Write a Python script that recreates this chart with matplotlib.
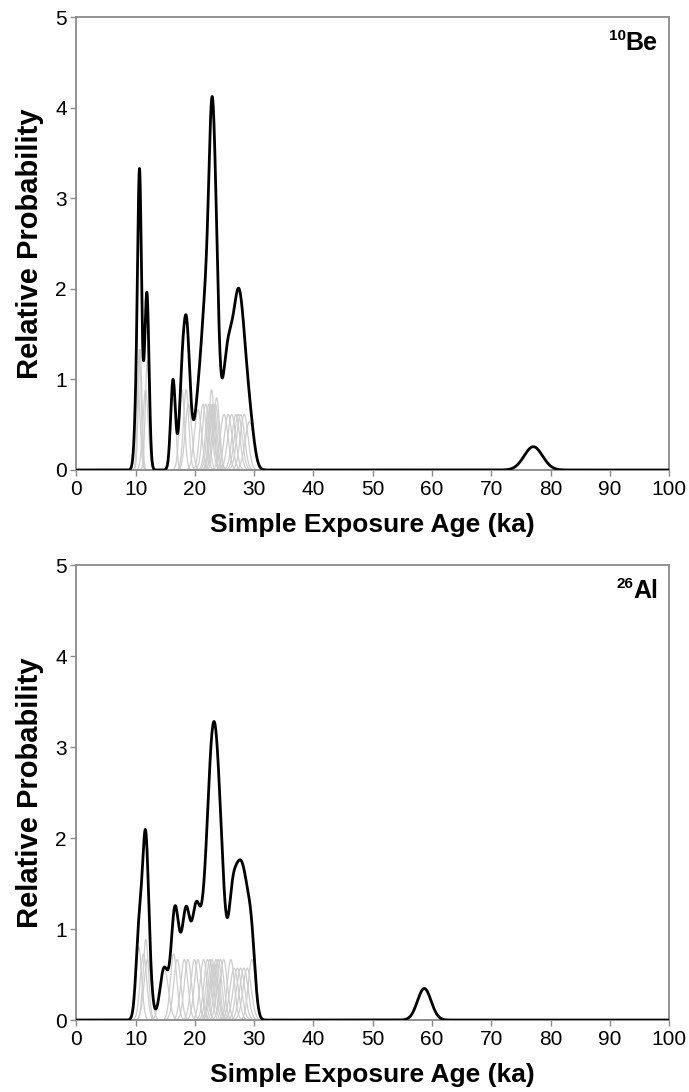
import numpy as np
import matplotlib
matplotlib.use("Agg")
import matplotlib.pyplot as plt

plt.rcParams["font.family"] = ["Liberation Sans", "DejaVu Sans"]

# Simple exposure ages (ka) and 1-sigma uncertainties (ka) for each boulder
be10_age = [10.3, 10.6, 10.75, 11.65, 11.95,
            16.3, 17.8, 18.5, 18.9,
            20.5, 21.35, 21.8, 22.35, 22.6, 22.8, 22.95, 23.15, 23.45, 23.65,
            24.9, 25.6, 26.2, 26.9, 27.3, 27.7, 28.3, 29.2,
            77.1]
be10_err = [0.40, 0.30, 0.30, 0.45, 0.33,
            0.40, 0.45, 0.45, 0.55,
            0.60, 0.55, 0.55, 0.55, 0.55, 0.45, 0.55, 0.55, 0.55, 0.50,
            0.65, 0.65, 0.65, 0.65, 0.65, 0.65, 0.65, 0.75,
            1.55]

al26_age = [10.5, 11.3, 11.7, 12.0,
            14.8, 16.4, 17.0, 18.2, 18.8, 19.9, 20.5,
            21.45, 22.1, 22.5, 22.85, 23.1, 23.3, 23.55, 23.9, 24.3, 24.85,
            26.05, 26.6, 27.15, 27.7, 28.25, 28.8, 29.6,
            58.7]
al26_err = [0.50, 0.55, 0.45, 0.60,
            0.70, 0.55, 0.60, 0.60, 0.60, 0.60, 0.60,
            0.60, 0.60, 0.60, 0.60, 0.65, 0.65, 0.60, 0.60, 0.60, 0.60,
            0.60, 0.70, 0.70, 0.70, 0.70, 0.70, 0.60,
            1.15]

x_ticks = [0, 10, 20, 30, 40, 50, 60, 70, 80, 90, 100]
y_ticks = [0, 1, 2, 3, 4, 5]

age_axis = np.linspace(0, 100, 5001)


def probability(mu, sd):
    return np.exp(-0.5 * ((age_axis - mu) / sd) ** 2) / (sd * np.sqrt(2 * np.pi))


spine_grey = "#8a8a8a"
fig = plt.figure(figsize=(6.89, 10.92), dpi=100)

panels = [
    (be10_age, be10_err, "10", "Be", [0.111, 0.5696, 0.860, 0.4148]),
    (al26_age, al26_err, "26", "Al", [0.111, 0.0659, 0.860, 0.4167]),
]

for ages, errs, mass, element, rect in panels:
    ax = fig.add_axes(rect)
    total = np.zeros_like(age_axis)
    for mu, sd in zip(ages, errs):
        p = probability(mu, sd)
        total += p
        ax.plot(age_axis, p, color="#cdcdcd", lw=0.9, zorder=2)
    ax.plot(age_axis, total, color="black", lw=2.0, zorder=3,
            solid_joinstyle="round")

    ax.set_xlim(0, 100)
    ax.set_ylim(0, 5)
    ax.set_xticks(x_ticks)
    ax.set_yticks(y_ticks)
    ax.tick_params(axis="both", direction="out", length=4, width=1.0,
                   color=spine_grey, labelsize=15, pad=3)
    for s in ax.spines.values():
        s.set_color(spine_grey)
        s.set_linewidth(1.3)

    ax.set_xlabel("Simple Exposure Age (ka)", fontsize=19, fontweight="bold",
                  labelpad=10)
    ax.set_ylabel("Relative Probability", fontsize=21, fontweight="bold",
                  labelpad=8)

    el = ax.text(0.981, 0.97, element, transform=ax.transAxes, ha="right",
                 va="top", fontsize=18, fontweight="bold")
    ax.annotate(mass, xy=(0, 1.05), xycoords=el, ha="right", va="top",
                fontsize=11, fontweight="bold")

fig.savefig("out.png", dpi=100)
